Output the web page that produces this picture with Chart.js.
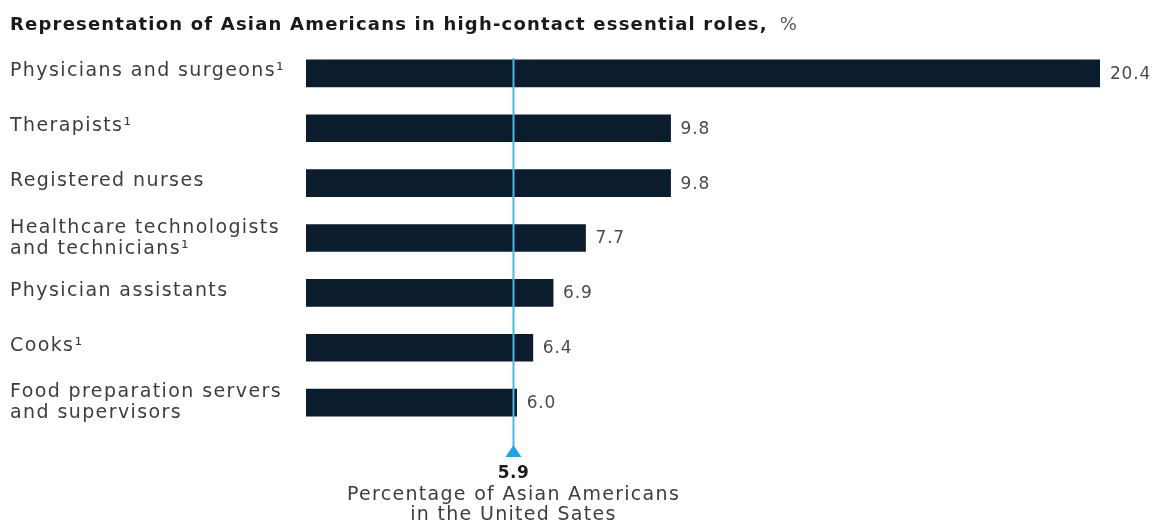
<!DOCTYPE html>
<html>
<head>
<meta charset="utf-8">
<script src="https://cdn.jsdelivr.net/npm/chart.js@4"></script>
<style>
  html, body { margin: 0; padding: 0; background: #ffffff; }
  #wrap { width: 1155px; height: 523px; }
</style>
</head>
<body>
<div id="wrap"><canvas id="asianRolesChart" width="1155" height="523"></canvas></div>
<script>
/* Representation of Asian Americans in high-contact essential roles (%) */

const titleMain = 'Representation of Asian Americans in high-contact essential roles,';
const titleUnit = '%';

// one entry per bar, multi-line labels as arrays
const roleLabels = [
    ['Physicians and surgeons\u00b9'],
    ['Therapists\u00b9'],
    ['Registered nurses'],
    ['Healthcare technologists', 'and technicians\u00b9'],
    ['Physician assistants'],
    ['Cooks\u00b9'],
    ['Food preparation servers', 'and supervisors']
];
const roleShares = [20.4, 9.8, 9.8, 7.7, 6.9, 6.4, 6.0];

const usShare = 5.9;
const usShareLabel = ['Percentage of Asian Americans', 'in the United Sates'];

const FONT = '"DejaVu Sans", "Liberation Sans", sans-serif';
const BAR_COLOR = '#0b1c2c';
const LINE_COLOR = '#55b3e2';
const ARROW_COLOR = '#22a2e0';

// draws the title, category labels, value labels and the 5.9 reference marker
const annotatePlugin = {
    id: 'annotate',
    afterDatasetsDraw(chart) {
        const ctx = chart.ctx;
        const xs = chart.scales.x;
        const ys = chart.scales.y;
        const meta = chart.getDatasetMeta(0);

        ctx.save();

        // title
        ctx.textBaseline = 'alphabetic';
        ctx.textAlign = 'left';
        ctx.fillStyle = '#1a1a1a';
        ctx.font = 'bold 18px ' + FONT;
        ctx.letterSpacing = '1.2px';
        ctx.fillText(titleMain, 10, 30);
        const tw = ctx.measureText(titleMain).width;
        ctx.font = '18px ' + FONT;
        ctx.fillStyle = '#555555';
        ctx.fillText(titleUnit, 10 + tw + 12, 30);

        // category labels
        ctx.font = '19px ' + FONT;
        ctx.letterSpacing = '1.4px';
        ctx.fillStyle = '#3d3d3d';
        roleLabels.forEach((lines, i) => {
            const cy = ys.getPixelForValue(i);
            const base = lines.length > 1 ? 5 : 3;
            lines.forEach((line, j) => {
                const off = (j - (lines.length - 1) / 2) * 21 + base;
                ctx.fillText(line, 10, cy + off);
            });
        });

        // value labels
        ctx.font = '17px ' + FONT;
        ctx.letterSpacing = '0.8px';
        ctx.fillStyle = '#4a4a4a';
        ctx.textBaseline = 'middle';
        meta.data.forEach((bar, i) => {
            ctx.fillText(roleShares[i].toFixed(1), bar.x + 10, bar.y + 1);
        });

        // reference line at US share
        const rx = Math.round(xs.getPixelForValue(usShare)) + 0.5;
        ctx.strokeStyle = LINE_COLOR;
        ctx.lineWidth = 2;
        ctx.beginPath();
        ctx.moveTo(rx, chart.chartArea.top + 12);
        ctx.lineTo(rx, 448);
        ctx.stroke();

        ctx.fillStyle = ARROW_COLOR;
        ctx.beginPath();
        ctx.moveTo(rx, 445);
        ctx.lineTo(rx + 8, 457);
        ctx.lineTo(rx - 8, 457);
        ctx.closePath();
        ctx.fill();

        ctx.textAlign = 'center';
        ctx.textBaseline = 'alphabetic';
        ctx.fillStyle = '#1a1a1a';
        ctx.font = 'bold 17px ' + FONT;
        ctx.letterSpacing = '0.5px';
        ctx.fillText(usShare.toFixed(1), rx, 478);

        ctx.font = '19px ' + FONT;
        ctx.letterSpacing = '1.3px';
        ctx.fillStyle = '#3d3d3d';
        ctx.fillText(usShareLabel[0], rx, 500);
        ctx.fillText(usShareLabel[1], rx, 520);

        ctx.restore();
    }
};

new Chart(document.getElementById('asianRolesChart'), {
    type: 'bar',
    data: {
        labels: roleLabels,
        datasets: [{
            data: roleShares,
            backgroundColor: BAR_COLOR,
            borderWidth: 0,
            barThickness: 27
        }]
    },
    options: {
        indexAxis: 'y',
        responsive: false,
        animation: false,
        layout: { padding: { left: 306, right: 55, top: 46, bottom: 93 } },
        plugins: {
            legend: { display: false },
            tooltip: { enabled: false }
        },
        scales: {
            x: { type: 'linear', min: 0.8, max: 20.4, display: false },
            y: { display: false }
        }
    },
    plugins: [annotatePlugin]
});
</script>
</body>
</html>
